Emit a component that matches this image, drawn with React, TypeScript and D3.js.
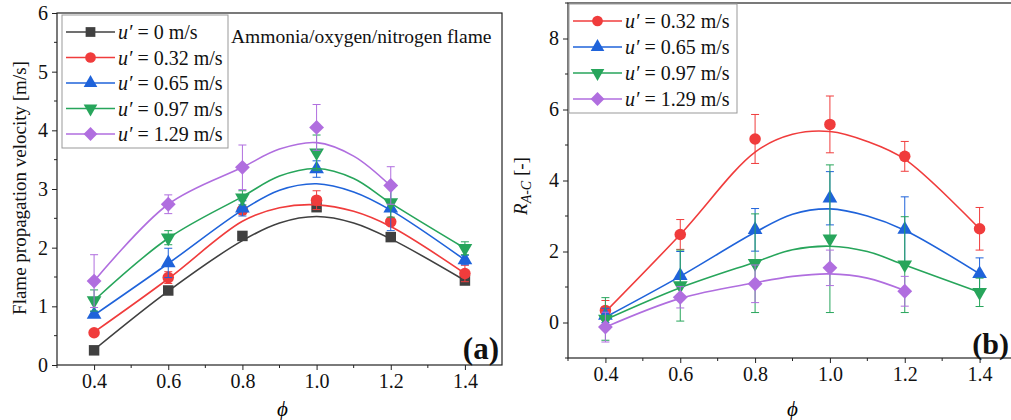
import React, { useEffect, useRef } from 'react'
import * as d3 from 'd3'

// measured points
const phi = [0.4, 0.6, 0.8, 1.0, 1.2, 1.4]
const fitPhi = [0.4, 0.6, 0.8, 0.9, 1.0, 1.1, 1.2, 1.4]

const speedsA = ['0', '0.32', '0.65', '0.97', '1.29']
const speedsB = ['0.32', '0.65', '0.97', '1.29']
const colors = ['#404040', '#f03c3c', '#1f63da', '#27a55b', '#b06edf']
const symbols = ['square', 'circle', 'triangle', 'triangleDown', 'diamond']

// (a) flame propagation velocity [m/s]
const vel0 = [0.25, 1.27, 2.2, 2.69, 2.18, 1.44]
const vel032 = [0.55, 1.49, 2.64, 2.81, 2.44, 1.56]
const vel065 = [0.86, 1.74, 2.67, 3.34, 2.67, 1.79]
const vel097 = [1.1, 2.17, 2.85, 3.62, 2.77, 1.99]
const vel129 = [1.43, 2.74, 3.37, 4.05, 3.06]

const velErr0 = [0.03, 0.04, 0.04, 0.05, 0.04, 0.04]
const velErr032 = [0.03, 0.1, 0.05, 0.16, 0.05, 0.14]
const velErr065 = [0.05, 0.25, 0.13, 0.14, 0.38, 0.08]
const velErr097 = [0.18, 0.12, 0.12, 0.3, 0.25, 0.11]
const velErr129 = [0.45, 0.16, 0.38, 0.39, 0.32]

const velFit0 = [0.26, 1.26, 2.12, 2.42, 2.53, 2.42, 2.15, 1.44]
const velFit032 = [0.56, 1.47, 2.45, 2.68, 2.73, 2.62, 2.36, 1.56]
const velFit065 = [0.85, 1.73, 2.64, 2.98, 3.09, 2.95, 2.64, 1.79]
const velFit097 = [1.1, 2.16, 2.87, 3.22, 3.35, 3.18, 2.76, 1.99]
const velFit129 = [1.43, 2.74, 3.37, 3.68, 3.79, 3.56, 3.05]

// (b) R_A-C [-]
const rac032 = [0.34, 2.48, 5.17, 5.58, 4.68, 2.64]
const rac065 = [0.2, 1.32, 2.61, 3.5, 2.62, 1.37]
const rac097 = [0.1, 1.04, 1.67, 2.36, 1.63, 0.85]
const rac129 = [-0.13, 0.71, 1.09, 1.54, 0.88]

const racErr032 = [0.28, 0.42, 0.69, 0.8, 0.42, 0.6]
const racErr065 = [0.2, 0.68, 0.6, 0.75, 0.92, 0.45]
const racErr097 = [0.6, 1.0, 1.39, 2.08, 1.35, 0.4]
const racErr129 = [0.42, 0.3, 0.53, 0.5, 0.42]

const racFit032 = [0.3, 2.48, 4.8, 5.3, 5.38, 5.1, 4.6, 2.64]
const racFit065 = [0.15, 1.3, 2.54, 3.05, 3.2, 3.0, 2.6, 1.37]
const racFit097 = [0.08, 0.98, 1.7, 2.05, 2.15, 2.0, 1.62, 0.85]
const racFit129 = [-0.13, 0.68, 1.12, 1.3, 1.37, 1.25, 0.9]

const FONT = "'Liberation Serif', 'Times New Roman', serif"

function symbolPath(kind: string, size: number) {
  if (kind === 'circle') return d3.symbol(d3.symbolCircle, size * 0.95)()
  if (kind === 'triangle' || kind === 'triangleDown') return d3.symbol(d3.symbolTriangle, size * 0.85)()
  return d3.symbol(d3.symbolSquare, size)()
}
function symbolRot(kind: string) {
  if (kind === 'triangleDown') return 180
  if (kind === 'diamond') return 45
  return 0
}

function drawPanel(svg: any, opt: any) {
  const x = d3.scaleLinear().domain([0.3, 1.5]).range(opt.xr)
  const y = d3.scaleLinear().domain(opt.yd).range(opt.yr)
  const g = svg.append('g')

  // frame
  g.append('rect')
    .attr('x', opt.xr[0]).attr('y', opt.yr[1])
    .attr('width', opt.xr[1] - opt.xr[0]).attr('height', opt.yr[0] - opt.yr[1])
    .attr('fill', 'none').attr('stroke', '#222').attr('stroke-width', 1.2)

  // x axis
  const xa = g.append('g').attr('transform', `translate(0,${opt.yr[0]})`)
    .call(d3.axisBottom(x).tickValues(phi).tickSize(5).tickSizeOuter(0).tickPadding(4).tickFormat(d3.format('.1f')))
  xa.select('.domain').remove()
  const xMinor = [0.3, 0.5, 0.7, 0.9, 1.1, 1.3]
  g.selectAll('.xminor').data(xMinor).join('line')
    .attr('x1', (d: number) => x(d)).attr('x2', (d: number) => x(d))
    .attr('y1', opt.yr[0]).attr('y2', opt.yr[0] + 3).attr('stroke', '#222')

  // y axis
  const ya = g.append('g').attr('transform', `translate(${opt.xr[0]},0)`)
    .call(d3.axisLeft(y).tickValues(opt.yTicks).tickSize(5).tickSizeOuter(0).tickPadding(4).tickFormat(d3.format('d')))
  ya.select('.domain').remove()
  g.selectAll('.yminor').data(opt.yMinor).join('line')
    .attr('x1', opt.xr[0] - 3).attr('x2', opt.xr[0])
    .attr('y1', (d: number) => y(d)).attr('y2', (d: number) => y(d)).attr('stroke', '#222')

  g.selectAll('.tick line').attr('stroke', '#222')
  xa.attr('font-family', FONT).attr('font-size', 20)
  ya.attr('font-family', FONT).attr('font-size', 20)
  g.selectAll('.tick text').attr('fill', '#111')

  // axis titles
  g.append('text').attr('x', (opt.xr[0] + Math.min(opt.xr[1], 1011)) / 2 + opt.phiShift).attr('y', 416)
    .attr('text-anchor', 'middle').attr('font-family', FONT).attr('font-size', 21)
    .attr('font-style', 'italic').text('ϕ')

  // series
  const line = d3.line<any>().x(d => x(d[0])).y(d => y(d[1])).curve(d3.curveCatmullRom.alpha(0.5))
  opt.series.forEach((s: any) => {
    const pts = s.vals.map((v: number, i: number) => [phi[i], v, s.err[i]])
    const fit = s.fit.map((v: number, i: number) => [fitPhi[i], v])
    const sg = g.append('g')
    sg.append('path').attr('d', line(fit)).attr('fill', 'none')
      .attr('stroke', s.color).attr('stroke-width', 1.6)
    const eb = sg.selectAll('.eb').data(pts).join('g').attr('stroke', s.color).attr('stroke-width', 1)
    eb.append('line').attr('x1', (d: any) => x(d[0])).attr('x2', (d: any) => x(d[0]))
      .attr('y1', (d: any) => y(d[1] - d[2])).attr('y2', (d: any) => y(d[1] + d[2]))
    eb.append('line').attr('x1', (d: any) => x(d[0]) - 4).attr('x2', (d: any) => x(d[0]) + 4)
      .attr('y1', (d: any) => y(d[1] + d[2])).attr('y2', (d: any) => y(d[1] + d[2]))
    eb.append('line').attr('x1', (d: any) => x(d[0]) - 4).attr('x2', (d: any) => x(d[0]) + 4)
      .attr('y1', (d: any) => y(d[1] - d[2])).attr('y2', (d: any) => y(d[1] - d[2]))
    sg.selectAll('.mk').data(pts).join('path')
      .attr('d', symbolPath(s.symbol, 110))
      .attr('transform', (d: any) => `translate(${x(d[0])},${y(d[1])}) rotate(${symbolRot(s.symbol)})`)
      .attr('fill', s.color)
  })

  // legend
  const lg = g.append('g')
  lg.append('rect').attr('x', opt.leg.x).attr('y', opt.leg.y)
    .attr('width', opt.leg.w).attr('height', opt.leg.h)
    .attr('fill', 'white').attr('stroke', '#999').attr('stroke-width', 1)
  opt.series.forEach((s: any, i: number) => {
    const cy = opt.leg.y0 + i * opt.leg.dy
    const lx = opt.leg.x + 4
    lg.append('line').attr('x1', lx).attr('x2', lx + 49).attr('y1', cy).attr('y2', cy)
      .attr('stroke', s.color).attr('stroke-width', 1.6)
    lg.append('path').attr('d', symbolPath(s.symbol, 95))
      .attr('transform', `translate(${lx + 24.5},${cy}) rotate(${symbolRot(s.symbol)})`)
      .attr('fill', s.color)
    const t = lg.append('text').attr('x', lx + 52).attr('y', cy + 7)
      .attr('font-family', FONT).attr('font-size', 20).attr('fill', '#111')
    t.append('tspan').attr('font-style', 'italic').text('u′')
    t.append('tspan').text(` = ${s.speed} m/s`)
  })
}

export default function App() {
  const ref = useRef<SVGSVGElement>(null)

  useEffect(() => {
    const svg = d3.select(ref.current)
    svg.selectAll('*').remove()

    const seriesA = [
      { vals: vel0, err: velErr0, fit: velFit0 },
      { vals: vel032, err: velErr032, fit: velFit032 },
      { vals: vel065, err: velErr065, fit: velFit065 },
      { vals: vel097, err: velErr097, fit: velFit097 },
      { vals: vel129, err: velErr129, fit: velFit129 },
    ].map((s, i) => ({ ...s, color: colors[i], symbol: symbols[i], speed: speedsA[i] }))

    const seriesB = [
      { vals: rac032, err: racErr032, fit: racFit032 },
      { vals: rac065, err: racErr065, fit: racFit065 },
      { vals: rac097, err: racErr097, fit: racFit097 },
      { vals: rac129, err: racErr129, fit: racFit129 },
    ].map((s, i) => ({ ...s, color: colors[i + 1], symbol: symbols[i + 1], speed: speedsB[i] }))

    drawPanel(svg, {
      xr: [57, 502], yr: [365, 13], yd: [0, 6],
      yTicks: [0, 1, 2, 3, 4, 5, 6], yMinor: [0.5, 1.5, 2.5, 3.5, 4.5, 5.5],
      series: seriesA, phiShift: 3,
      leg: { x: 62, y: 15, w: 166, h: 133, y0: 32, dy: 25.5 },
    })
    drawPanel(svg, {
      xr: [568, 1017], yr: [358, 3], yd: [-1, 9],
      yTicks: [0, 2, 4, 6, 8], yMinor: [-1, 1, 3, 5, 7, 9],
      series: seriesB, phiShift: 3,
      leg: { x: 569, y: 4, w: 168, h: 109, y0: 21, dy: 26 },
    })

    // panel (a) annotations
    svg.append('text').attr('x', 231).attr('y', 43).attr('font-family', FONT).attr('font-size', 19.5)
      .attr('fill', '#111').text('Ammonia/oxygen/nitrogen flame')
    svg.append('text').attr('x', 499).attr('y', 359).attr('text-anchor', 'end').attr('font-family', FONT)
      .attr('font-size', 31).attr('font-weight', 'bold').attr('fill', '#111').text('(a)')
    svg.append('text').attr('transform', 'translate(26,188) rotate(-90)').attr('text-anchor', 'middle')
      .attr('font-family', FONT).attr('font-size', 19).attr('fill', '#111')
      .text('Flame propagation velocity [m/s]')

    // panel (b) annotations
    svg.append('text').attr('x', 1009).attr('y', 354).attr('text-anchor', 'end').attr('font-family', FONT)
      .attr('font-size', 30).attr('font-weight', 'bold').attr('fill', '#111').text('(b)')
    const rl = svg.append('text').attr('transform', 'translate(527,186) rotate(-90)').attr('text-anchor', 'middle')
      .attr('font-family', FONT).attr('font-size', 19).attr('fill', '#111')
    rl.append('tspan').attr('font-style', 'italic').text('R')
    rl.append('tspan').attr('font-style', 'italic').attr('font-size', 14).attr('dy', 4).text('A-C')
    rl.append('tspan').attr('dy', -4).text(' [-]')
  }, [])

  return (
    <svg ref={ref} width={1011} height={420}
      style={{ position: 'absolute', left: 0, top: 0, background: 'white' }} />
  )
}
